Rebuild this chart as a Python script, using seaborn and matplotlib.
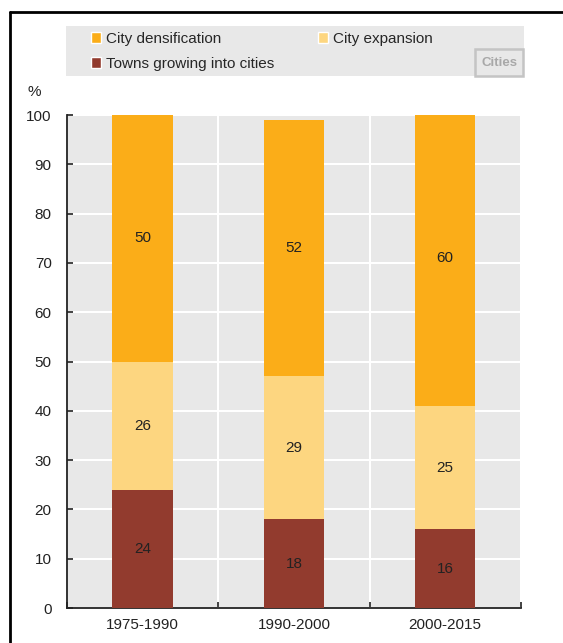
import numpy as np
import pandas as pd
import matplotlib
matplotlib.use("Agg")
import matplotlib.pyplot as plt
import seaborn as sns
from matplotlib.patches import Rectangle, Patch
from matplotlib.lines import Line2D

# Dados
periods = ["1975-1990", "1990-2000", "2000-2015"]
towns = [24, 18, 16]
expansion = [26, 29, 25]
densification = [50, 52, 60]

series_names = ["City densification", "City expansion", "Towns growing into cities"]
colors = {"City densification": "#fbad18",
          "City expansion": "#fdd680",
          "Towns growing into cities": "#923b2e"}

df = pd.DataFrame({"period": periods, "towns": towns,
                   "expansion": expansion, "densification": densification})
df["top_towns"] = df["towns"]
df["top_expansion"] = df["towns"] + df["expansion"]
df["top_densification"] = df["top_expansion"] + df["densification"]

sns.set_style("white")
plt.rcParams["font.family"] = ["Liberation Sans", "DejaVu Sans"]

fig = plt.figure(figsize=(5.63, 6.43), dpi=100)
ax = fig.add_axes([0.119, 0.0544, 0.806, 0.7667])
ax.set_facecolor("#e8e8e8")

# barras empilhadas: desenha do maior total para o menor
for col, name in [("top_densification", "City densification"),
                  ("top_expansion", "City expansion"),
                  ("top_towns", "Towns growing into cities")]:
    sns.barplot(data=df, x="period", y=col, color=colors[name], width=0.4,
                saturation=1, ax=ax, zorder=3, linewidth=0)

# rótulos no meio de cada segmento
for i in range(len(periods)):
    bottoms = [0, df["top_towns"][i], df["top_expansion"][i]]
    vals = [towns[i], expansion[i], densification[i]]
    for b, v in zip(bottoms, vals):
        ax.text(i, b + v / 2, str(v), ha="center", va="center",
                fontsize=11, color="#222222", zorder=4)

ax.set_ylim(0, 100)
ax.set_xlim(-0.5, 2.5)
ax.set_yticks(np.arange(0, 101, 10))
ax.set_xticks(range(3))
ax.set_xticks([-0.5, 0.5, 1.5, 2.5], minor=True)
ax.set_xlabel("")
ax.set_ylabel("")

ax.grid(axis="y", color="white", linewidth=1.5, zorder=1)
ax.grid(axis="x", which="minor", color="white", linewidth=1.5, zorder=1)
ax.grid(axis="x", which="major", visible=False)
ax.set_axisbelow(True)

for s in ["top", "right"]:
    ax.spines[s].set_visible(False)
ax.spines["left"].set_color("#222222")
ax.spines["bottom"].set_color("#222222")
ax.spines["left"].set_linewidth(1.3)
ax.spines["bottom"].set_linewidth(1.3)

ax.tick_params(axis="y", direction="in", length=4, width=1.2, color="#222222",
               labelsize=11, pad=11, labelcolor="#222222", left=True)
ax.tick_params(axis="x", which="major", length=0, labelsize=11, pad=7,
               labelcolor="#222222")
ax.tick_params(axis="x", which="minor", direction="in", length=4, width=1.2,
               color="#222222", bottom=True)

fig.text(27 / 563, 1 - 92 / 643, "%", fontsize=11, color="#222222",
         ha="left", va="center")

# caixa da legenda
fig.patches.append(Rectangle((66 / 563, 1 - 76 / 643), 458 / 563, 50 / 643,
                             transform=fig.transFigure, facecolor="#e8e8e8",
                             edgecolor="none", zorder=0))
handles = [Patch(facecolor=colors["City densification"]),
           Patch(facecolor=colors["Towns growing into cities"]),
           Patch(facecolor=colors["City expansion"])]
labels = ["City densification", "Towns growing into cities", "City expansion"]
fig.legend(handles, labels, ncol=2, loc="upper left",
           bbox_to_anchor=(91 / 563, 1 - 32 / 643), frameon=False,
           fontsize=11, handlelength=0.65, handleheight=0.75,
           handletextpad=0.3, columnspacing=2.9, labelspacing=0.72,
           borderpad=0, borderaxespad=0)

fig.patches.append(Rectangle((475 / 563, 1 - 76 / 643), 48 / 563, 27 / 643,
                             transform=fig.transFigure, facecolor="#e8e8e8",
                             edgecolor="#c4c4c4", linewidth=1.8, zorder=1))
fig.text(499 / 563, 1 - 62.5 / 643, "Cities", fontsize=9.5, color="#a8a8a8",
         fontweight="bold", ha="center", va="center")

# moldura preta
fig.add_artist(Line2D([10 / 563, 10 / 563], [0, 1 - 12 / 643],
                      transform=fig.transFigure, color="black", linewidth=2))
fig.add_artist(Line2D([10 / 563, 1], [1 - 12 / 643, 1 - 12 / 643],
                      transform=fig.transFigure, color="black", linewidth=2))

fig.savefig("out.png", dpi=100)
